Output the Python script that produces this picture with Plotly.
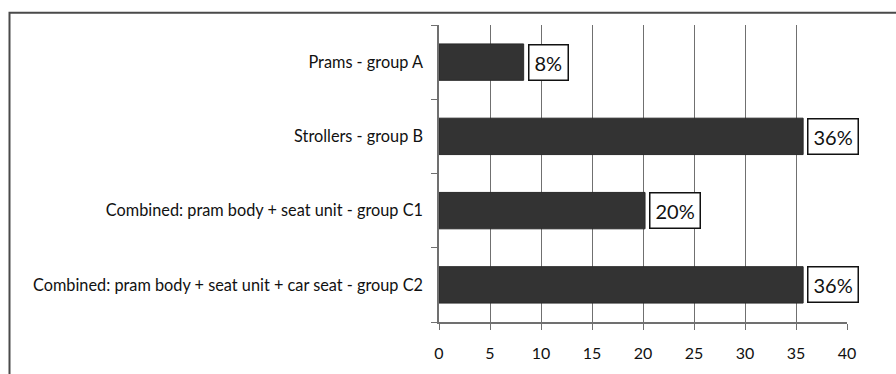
import plotly.graph_objects as go

# Share of products in each group (percent)
categories = [
    "Prams - group A",
    "Strollers - group B",
    "Combined: pram body + seat unit - group C1",
    "Combined: pram body + seat unit + car seat - group C2",
]
shares = [8.3, 35.7, 20.2, 35.7]
x_ticks = [0, 5, 10, 15, 20, 25, 30, 35, 40]

W, H = 896, 374
L, R, T, B = 439, 49, 25, 46
pw, ph = W - L - R, H - T - B

def px_x(p):
    return (p - L) / pw

def px_y(p):
    return (H - B - p) / ph

fig = go.Figure(
    go.Bar(
        x=shares,
        y=categories,
        orientation="h",
        marker=dict(color="#333333", line=dict(color="#2a2a2a", width=1)),
        width=0.49,
        hoverinfo="skip",
    )
)

# Value labels in white boxes beside each bar
for cat, v in zip(categories, shares):
    fig.add_annotation(
        x=v, y=cat, xref="x", yref="y",
        text=f"{v:.0f}%", showarrow=False,
        xanchor="left", yanchor="middle", xshift=4,
        font=dict(family="Lato", size=20, color="#111111"),
        bgcolor="white", bordercolor="#111111", borderwidth=1.5, borderpad=5,
    )

# Outer chart frame (open on the right and bottom)
fig.add_shape(
    type="rect", xref="paper", yref="paper",
    x0=px_x(9.5), x1=px_x(905), y0=px_y(385), y1=px_y(12.5),
    line=dict(color="#4a4a4a", width=2), fillcolor="rgba(0,0,0,0)",
    layer="below",
)

fig.update_layout(
    width=W, height=H,
    margin=dict(l=L, r=R, t=T, b=B, pad=0),
    paper_bgcolor="white", plot_bgcolor="white",
    showlegend=False,
    font=dict(family="Lato", color="#111111"),
    xaxis=dict(
        range=[0, 40], tickvals=x_ticks, ticktext=[str(t) for t in x_ticks],
        showgrid=True, gridcolor="#707070", gridwidth=1.2,
        showline=True, linecolor="#707070", linewidth=1.5,
        ticks="outside", ticklen=6, tickcolor="#707070",
        tickfont=dict(family="Lato", size=16, color="#111111"),
        ticklabelstandoff=10, zeroline=False, fixedrange=True,
    ),
    yaxis=dict(
        categoryorder="array", categoryarray=categories[::-1],
        showline=True, linecolor="#707070", linewidth=1.5,
        ticks="outside", ticklen=6, tickcolor="#707070", tickson="boundaries",
        tickfont=dict(family="Lato", size=16.3, color="#111111"),
        ticklabelstandoff=11, showgrid=False, fixedrange=True,
    ),
)

fig.write_html("out.html")
